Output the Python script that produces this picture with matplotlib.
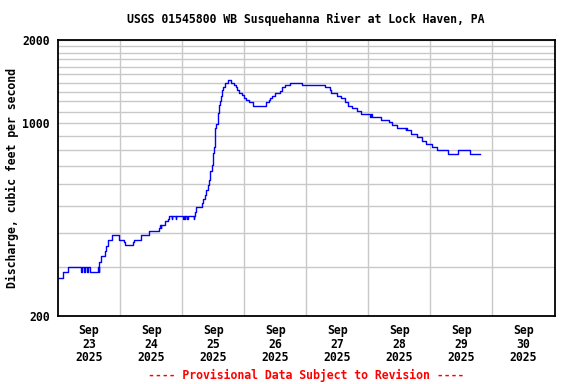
import matplotlib
matplotlib.use("Agg")
import matplotlib.pyplot as plt
from matplotlib.ticker import NullFormatter

# hours since 2025-09-23 00:00 and discharge (cfs), step data
hours = [
    0, 1.75, 4.0, 9.0, 9.25, 10.0, 10.25, 11.25, 11.5, 12.25, 15.5, 15.75,
    16.0, 16.75, 18.25, 18.75, 19.5, 21.0, 23.5, 25.5, 26.0, 29.0, 29.5,
    32.25, 35.0, 39.0, 39.5, 39.75, 40.0, 41.25, 42.5, 43.0, 44.0, 44.25,
    45.5, 45.75, 48.5, 48.75, 49.0, 49.25, 50.0, 50.25, 52.5, 52.75,
    53.0, 53.5, 55.5, 56.25, 56.75, 57.25, 58.0, 58.25, 58.75, 59.5, 60.0,
    60.5, 60.75, 61.25, 61.75, 62.25, 62.5, 63.0, 63.5, 63.75, 64.5, 65.75,
    67.0, 68.0, 68.75, 69.25, 70.0, 71.0, 71.75, 72.75, 74.0, 75.5, 80.5,
    81.5, 82.0, 82.75, 84.0, 85.75, 86.75, 87.75, 89.75, 94.25, 103.25,
    105.0, 105.75, 108.0, 109.25, 111.0, 112.0, 113.75, 115.5, 117.25,
    120.75, 121.0, 121.5, 125.0, 128.0, 129.25, 131.25, 134.5, 134.75, 135.0,
    136.5, 138.75, 140.75, 142.5, 144.75, 146.75, 151.0, 154.5, 159.5, 163.25,
]
cfs = [
    274, 288, 302, 288, 302, 288, 302, 288, 302, 288, 302, 288,
    315, 331, 345, 360, 376, 392, 376, 370, 361, 370, 376,
    392, 407, 416, 426, 416, 426, 443, 450, 459, 450, 459,
    450, 459, 450, 459, 450, 459, 450, 459, 450, 459,
    477, 495, 513, 531, 549, 572, 597, 622, 672, 705, 781,
    821, 957, 992, 1085, 1163, 1205, 1254, 1318, 1355, 1394, 1429,
    1401, 1374, 1346, 1313, 1288, 1261, 1236, 1209, 1193, 1153, 1193,
    1212, 1236, 1254, 1285, 1310, 1346, 1374, 1394, 1374, 1346,
    1318, 1285, 1254, 1236, 1194, 1153, 1131, 1106, 1079,
    1049, 1079, 1049, 1024, 1006, 984, 958, 942, 958, 942,
    913, 888, 861, 838, 817, 799, 771, 799, 771, 771,
]

day_labels = ["Sep\n23\n2025", "Sep\n24\n2025", "Sep\n25\n2025", "Sep\n26\n2025",
              "Sep\n27\n2025", "Sep\n28\n2025", "Sep\n29\n2025", "Sep\n30\n2025"]

FONT = {"family": "DejaVu Sans Mono", "weight": "bold", "size": 8.3}

fig = plt.figure(figsize=(5.76, 3.84), dpi=100)
ax = fig.add_axes([58 / 576, 1 - 316 / 384, (554.5 - 58) / 576, (316 - 40) / 384])

ax.plot(hours, cfs, color="#0000ff", linewidth=1.0, drawstyle="steps-post")

ax.set_yscale("log")
ax.set_ylim(200, 2000)
ax.set_xlim(0, 192)

ax.set_yticks([200, 1000, 2000])
ax.set_yticklabels(["200", "1000", "2000"], fontdict=FONT)
minor = [v for v in range(300, 1000, 100)] + [v for v in range(1100, 2000, 100)]
ax.set_yticks(minor, minor=True)
ax.yaxis.set_minor_formatter(NullFormatter())

ax.set_xticks([24 * k for k in range(1, 8)])
ax.set_xticklabels([])
ax.set_xticks([12 + 24 * k for k in range(8)], minor=True)
ax.set_xticklabels(day_labels, minor=True, fontdict=FONT, linespacing=1.05)

ax.tick_params(which="both", length=0)
ax.tick_params(axis="x", which="minor", pad=6)
ax.tick_params(axis="y", pad=6)

ax.grid(True, which="major", color="#c8c8c8", linewidth=1.0)
ax.grid(True, which="minor", axis="y", color="#c8c8c8", linewidth=1.0)
ax.set_axisbelow(True)
for s in ax.spines.values():
    s.set_linewidth(1.3)
    s.set_color("black")

ax.set_ylabel("Discharge, cubic feet per second", fontdict=FONT, labelpad=2)
fig.text(306 / 576, 1 - 19 / 384, "USGS 01545800 WB Susquehanna River at Lock Haven, PA",
         ha="center", va="center", **FONT)
fig.text(306 / 576, 1 - 375 / 384, "---- Provisional Data Subject to Revision ----",
         ha="center", va="center", color="red", **FONT)

fig.savefig("out.png", dpi=100)
